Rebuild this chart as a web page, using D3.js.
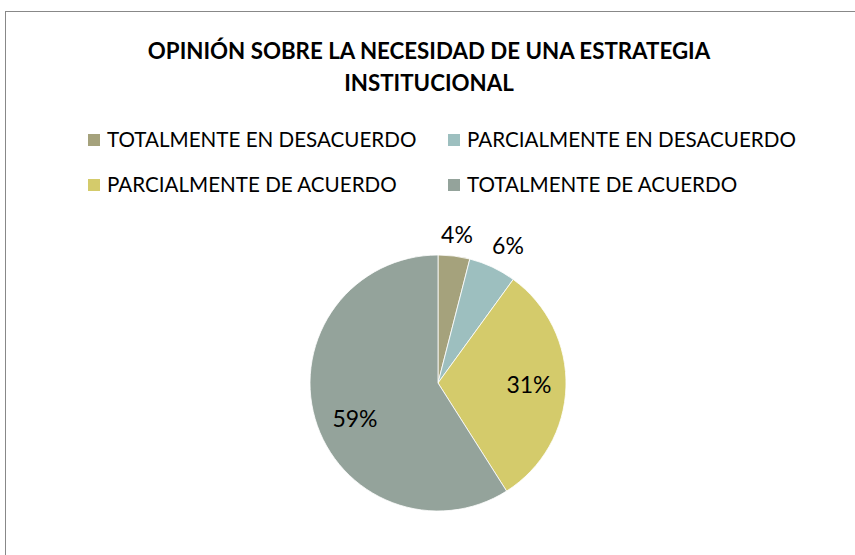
<!DOCTYPE html>
<html><head><meta charset="utf-8">
<script src="https://cdn.jsdelivr.net/npm/d3@7"></script>
<style>body{margin:0;background:#fff}svg{display:block}</style>
</head><body>
<script>
const categories = ["TOTALMENTE EN DESACUERDO","PARCIALMENTE EN DESACUERDO","PARCIALMENTE DE ACUERDO","TOTALMENTE DE ACUERDO"];
const values = [4, 6, 31, 59];
const colors = ["#A5A27C","#9DBFBF","#D4CB6B","#94A39B"];
const titleLines = ["OPINIÓN SOBRE LA NECESIDAD DE UNA ESTRATEGIA","INSTITUCIONAL"];

const W=855,H=555;
const svg=d3.select("body").append("svg").attr("width",W).attr("height",H);
svg.append("rect").attr("width",W).attr("height",H).attr("fill","#fff");
svg.append("rect").attr("x",5.5).attr("y",11.5).attr("width",1000).attr("height",1000)
  .attr("fill","none").attr("stroke","#888").attr("stroke-width",1);

const font="Lato, 'Open Sans', sans-serif";
svg.selectAll("text.title").data(titleLines).join("text").attr("class","title")
  .attr("x",429).attr("y",(d,i)=>59+i*32).attr("text-anchor","middle")
  .attr("font-family",font).attr("font-weight","bold").attr("font-size",22.3).attr("fill","#000")
  .text(d=>d);

// legend
const legX=[88,448], legY=[140,185];
const lg=svg.selectAll("g.leg").data(categories).join("g").attr("class","leg")
  .attr("transform",(d,i)=>`translate(${legX[i%2]},${legY[Math.floor(i/2)]})`);
lg.append("rect").attr("x",0).attr("y",-6).attr("width",12).attr("height",12).attr("fill",(d,i)=>colors[i]);
lg.append("text").attr("x",19).attr("y",0).attr("dy","0.35em").attr("font-family",font)
  .attr("font-size",20.6).attr("fill","#000").text(d=>d);

// pie
const cx=438, cy=383, r=128;
const pie=d3.pie().sort(null).value(d=>d)(values);
const arc=d3.arc().innerRadius(0).outerRadius(r);
const g=svg.append("g").attr("transform",`translate(${cx},${cy})`);
g.selectAll("path").data(pie).join("path").attr("d",arc).attr("fill",(d,i)=>colors[i])
  .attr("stroke","#fff").attr("stroke-width",0.8);

const labelPos=[[19,-148],[70,-137],[91,2],[-83,36]];
g.selectAll("text").data(pie).join("text")
  .attr("x",(d,i)=>labelPos[i][0]).attr("y",(d,i)=>labelPos[i][1]).attr("dy","0.35em")
  .attr("text-anchor","middle").attr("font-family",font).attr("font-size",23).attr("fill","#000")
  .text(d=>d.data+"%");
</script>
</body></html>
